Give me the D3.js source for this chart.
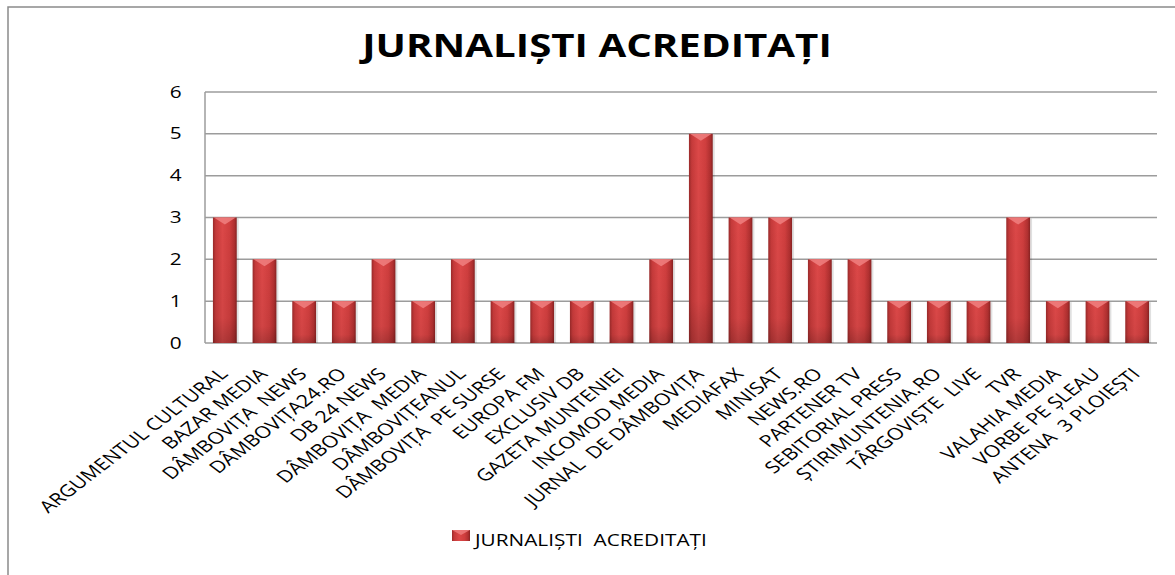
<!DOCTYPE html>
<html lang="ro">
<head>
    <meta charset="utf-8"/>
    <style>
        body {
            margin: 0;
            background: #fff;
        }
        svg text {
            font-family: "Open Sans", "Noto Sans", sans-serif;
            fill: #000;
        }
        .grid line {
            stroke: #9c9c9c;
            stroke-width: 1.5px;
        }
    </style>
    <script src="https://cdnjs.cloudflare.com/ajax/libs/d3/7.8.5/d3.min.js" charset="utf-8"></script>
</head>
<body>
<svg id="chart" width="1175" height="575"></svg>
<script>
    var title = 'JURNALIȘTI ACREDITAȚI';
    var seriesName = 'JURNALIȘTI  ACREDITAȚI';
    var categories = [
        'ARGUMENTUL CULTURAL', 'BAZAR MEDIA', 'DÂMBOVIȚA  NEWS', 'DÂMBOVIȚA24.RO',
        'DB 24 NEWS', 'DÂMBOVIȚA  MEDIA', 'DÂMBOVIȚEANUL', 'DÂMBOVIȚA  PE SURSE',
        'EUROPA FM', 'EXCLUSIV DB', 'GAZETA MUNTENIEI', 'INCOMOD MEDIA',
        'JURNAL  DE DÂMBOVIȚA', 'MEDIAFAX', 'MINISAT', 'NEWS.RO',
        'PARTENER TV', 'SEBITORIAL PRESS', 'ȘTIRIMUNTENIA.RO', 'TÂRGOVIȘTE  LIVE',
        'TVR', 'VALAHIA MEDIA', 'VORBE PE ȘLEAU', 'ANTENA  3 PLOIEȘTI'
    ];
    var values = [3, 2, 1, 1, 2, 1, 2, 1, 1, 1, 1, 2, 5, 3, 3, 2, 2, 1, 1, 1, 3, 1, 1, 1];
    var yTicks = [0, 1, 2, 3, 4, 5, 6];

    var svg = d3.select('#chart');
    var plotLeft = 205, plotRight = 1157, plotTop = 92, plotBottom = 343;
    // the original picture is stretched sideways, so text is widened too
    var stretch = 1.3;

    // frame of the chart object (runs off the right and bottom)
    svg.append('rect')
        .attr('x', 8).attr('y', 7)
        .attr('width', 1300).attr('height', 700)
        .attr('fill', 'none')
        .attr('stroke', '#8a8a8a')
        .attr('stroke-width', 1.5);

    var defs = svg.append('defs');
    var grad = defs.append('linearGradient').attr('id', 'barFill')
        .attr('x1', 0).attr('x2', 1).attr('y1', 0).attr('y2', 0);
    [[0, '#9a2a2a'], [0.12, '#c53a3a'], [0.4, '#dc4848'], [0.7, '#cf3e3e'], [0.9, '#b03030'], [1, '#872222']]
        .forEach(function(s) {
            grad.append('stop').attr('offset', s[0]).attr('stop-color', s[1]);
        });
    var vgrad = defs.append('linearGradient').attr('id', 'barShade')
        .attr('x1', 0).attr('x2', 0).attr('y1', 0).attr('y2', 1);
    vgrad.append('stop').attr('offset', 0).attr('stop-color', '#000').attr('stop-opacity', 0);
    vgrad.append('stop').attr('offset', 0.8).attr('stop-color', '#000').attr('stop-opacity', 0.05);
    vgrad.append('stop').attr('offset', 1).attr('stop-color', '#000').attr('stop-opacity', 0.2);

    var x = d3.scaleBand()
        .domain(categories)
        .range([plotLeft, plotRight])
        .paddingInner(0.4)
        .paddingOuter(0.2);

    var y = d3.scaleLinear()
        .domain([0, 6])
        .range([plotBottom, plotTop]);

    // gridlines
    svg.append('g').attr('class', 'grid')
        .selectAll('line')
        .data(yTicks)
        .enter().append('line')
        .attr('x1', plotLeft).attr('x2', plotRight)
        .attr('y1', function(d) { return y(d); })
        .attr('y2', function(d) { return y(d); });

    svg.append('line')
        .attr('x1', plotLeft).attr('x2', plotLeft)
        .attr('y1', plotTop).attr('y2', plotBottom)
        .attr('stroke', '#9c9c9c').attr('stroke-width', 1.5);

    // y axis labels
    var yAxis = d3.axisLeft(y).tickValues(yTicks).tickFormat(d3.format('d')).tickSize(0).tickPadding(18);
    var ga = svg.append('g')
        .attr('transform', 'translate(' + plotLeft + ',0)')
        .call(yAxis);
    ga.select('.domain').remove();
    ga.selectAll('.tick text')
        .attr('transform', 'scale(' + stretch + ',1)')
        .style('font-size', '16px')
        .style('font-family', '"Open Sans", sans-serif')
        .attr('fill', '#000');

    // bars
    var bars = svg.append('g').selectAll('g')
        .data(values)
        .enter().append('g')
        .attr('transform', function(d, i) { return 'translate(' + x(categories[i]) + ',0)'; });

    bars.append('rect')
        .attr('x', 2).attr('y', function(d) { return y(d) + 1; })
        .attr('width', x.bandwidth())
        .attr('height', function(d) { return y(0) - y(d) - 1; })
        .attr('fill', '#000').attr('opacity', 0.12);

    bars.append('rect')
        .attr('y', function(d) { return y(d); })
        .attr('width', x.bandwidth())
        .attr('height', function(d) { return y(0) - y(d); })
        .attr('fill', 'url(#barFill)');

    bars.append('rect')
        .attr('y', function(d) { return y(d); })
        .attr('width', x.bandwidth())
        .attr('height', function(d) { return y(0) - y(d); })
        .attr('fill', 'url(#barShade)');

    // light chevron at the top of each bar
    bars.append('path')
        .attr('d', function(d) {
            var w = x.bandwidth(), t = y(d);
            return 'M1,' + t + ' L' + (w - 1) + ',' + t + ' L' + (w / 2) + ',' + (t + 7) + ' Z';
        })
        .attr('fill', '#f08080').attr('opacity', 0.85);

    // category labels
    svg.append('g').selectAll('text')
        .data(categories)
        .enter().append('text')
        .attr('transform', function(d) {
            return 'translate(' + (x(d) + x.bandwidth() / 2 + 4) + ',' + (plotBottom + 32) + ') scale(' + stretch + ',1) rotate(-45)';
        })
        .attr('text-anchor', 'end')
        .style('font-size', '16.5px')
        .style('white-space', 'pre')
        .text(function(d) { return d; });

    // title
    svg.append('text')
        .attr('transform', 'translate(597,57) scale(1.22,1)')
        .attr('text-anchor', 'middle')
        .style('font-size', '33px')
        .style('font-weight', 'bold')
        .text(title);

    // legend
    var lg = svg.append('g').attr('transform', 'translate(452,530)');
    lg.append('rect')
        .attr('width', 18).attr('height', 11)
        .attr('fill', 'url(#barFill)');
    lg.append('path')
        .attr('d', 'M0,0 L18,0 L9,5 Z')
        .attr('fill', '#f08080').attr('opacity', 0.8);
    lg.append('text')
        .attr('transform', 'translate(23,16) scale(' + stretch + ',1)')
        .style('font-size', '16px')
        .style('white-space', 'pre')
        .text(seriesName);
</script>
</body>
</html>
